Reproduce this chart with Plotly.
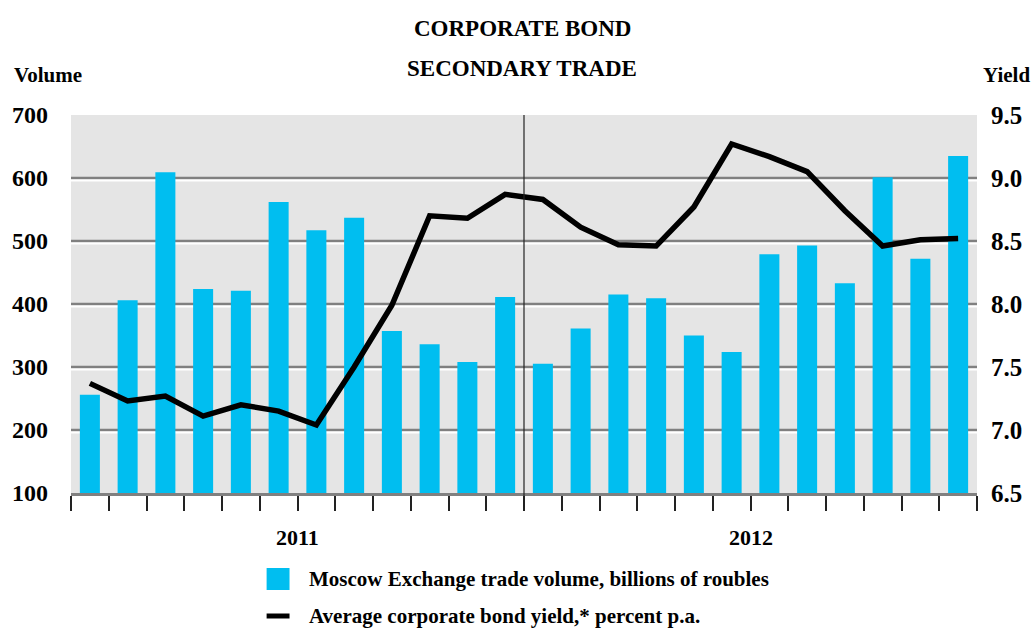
import plotly.graph_objects as go

# Monthly observations, January 2011 - December 2012
MONTHS = [f"{m} {y}" for y in (2011, 2012) for m in
          ["Jan", "Feb", "Mar", "Apr", "May", "Jun",
           "Jul", "Aug", "Sep", "Oct", "Nov", "Dec"]]
YEARS = ["2011", "2012"]

# Moscow Exchange trade volume, billions of roubles
VOLUME = [256, 406, 609, 424, 421, 562, 517, 537, 357, 336, 308, 411,
          305, 361, 415, 409, 350, 324, 479, 493, 433, 601, 472, 635]

# Average corporate bond yield, percent p.a.
YIELD = [7.37, 7.23, 7.27, 7.11, 7.20, 7.15, 7.04, 7.50, 7.99, 8.70, 8.68, 8.87,
         8.83, 8.61, 8.47, 8.46, 8.77, 9.27, 9.17, 9.05, 8.74, 8.46, 8.51, 8.52]

LEFT_TICKS = [100, 200, 300, 400, 500, 600, 700]
RIGHT_TICKS = [6.5, 7.0, 7.5, 8.0, 8.5, 9.0, 9.5]
RIGHT_TICK_TEXT = ["6.5", "7.0", "7.5", "8.0", "8.5", "9.0", "9.5"]

FONT = "'Liberation Serif', 'Times New Roman', 'DejaVu Serif', serif"
CYAN = "#00BEF0"

x = list(range(len(MONTHS)))

fig = go.Figure()
fig.add_trace(go.Bar(x=x, y=VOLUME, marker=dict(color=CYAN, line=dict(width=0)),
                     name="Moscow Exchange trade volume, billions of roubles",
                     hovertext=MONTHS, yaxis="y"))
fig.add_trace(go.Scatter(x=x, y=YIELD, mode="lines",
                         line=dict(color="black", width=5.5),
                         name="Average corporate bond yield,* percent p.a.",
                         hovertext=MONTHS, yaxis="y2"))

shapes = []
# grey gridlines with a white rule just beneath each
for v in LEFT_TICKS[1:-1]:
    shapes.append(dict(type="line", xref="paper", yref="y", x0=0, x1=1, y0=v, y1=v,
                       line=dict(color="#808080", width=2.5), layer="between"))
    shapes.append(dict(type="line", xref="paper", yref="y", ysizemode="pixel",
                       yanchor=v, x0=0, x1=1, y0=-2.5, y1=-2.5,
                       line=dict(color="white", width=2), layer="between"))
# year divider
n_first = MONTHS.index("Jan 2012")
shapes.append(dict(type="line", xref="x", yref="paper", x0=n_first - 0.5, x1=n_first - 0.5,
                   y0=-0.04, y1=1, line=dict(color="#222222", width=1.2), layer="above"))

# legend keys
shapes.append(dict(type="rect", xref="paper", yref="paper",
                   x0=0.2159, x1=0.2412, y0=-0.2566, y1=-0.1984,
                   fillcolor=CYAN, line=dict(width=0)))
shapes.append(dict(type="line", xref="paper", yref="paper",
                   x0=0.2159, x1=0.2412, y0=-0.3254, y1=-0.3254,
                   line=dict(color="black", width=5)))

bold = dict(family=FONT, color="black", weight="bold")
annotations = [
    dict(text="CORPORATE BOND", x=0.4978, y=1.230, xref="paper", yref="paper",
         showarrow=False, xanchor="center", yanchor="middle", font=dict(size=23, **bold)),
    dict(text="SECONDARY TRADE", x=0.4978, y=1.124, xref="paper", yref="paper",
         showarrow=False, xanchor="center", yanchor="middle", font=dict(size=23, **bold)),
    dict(text="Volume", x=-0.065, y=1.106, xref="paper", yref="paper",
         showarrow=False, xanchor="left", yanchor="middle", font=dict(size=21, **bold)),
    dict(text="Yield", x=1.0606, y=1.106, xref="paper", yref="paper",
         showarrow=False, xanchor="right", yanchor="middle", font=dict(size=21, **bold)),
    dict(text="Moscow Exchange trade volume, billions of roubles", x=0.26, y=-0.2275,
         xref="paper", yref="paper", showarrow=False, xanchor="left", yanchor="middle",
         font=dict(size=21, **bold)),
    dict(text="Average corporate bond yield,* percent p.a.", x=0.26, y=-0.3254,
         xref="paper", yref="paper", showarrow=False, xanchor="left", yanchor="middle",
         font=dict(size=21, **bold)),
]
# year labels centred under each year's months
for k, yr in enumerate(YEARS):
    idx = [i for i, m in enumerate(MONTHS) if m.endswith(yr)]
    annotations.append(dict(text=yr, x=sum(idx) / len(idx), y=-0.119, xref="x", yref="paper",
                            showarrow=False, xanchor="center", yanchor="middle",
                            font=dict(size=22, **bold)))

fig.update_layout(
    width=1034, height=635,
    margin=dict(l=69, r=57, t=115, b=142),
    paper_bgcolor="white", plot_bgcolor="#E5E5E5",
    font=dict(family=FONT),
    bargap=0.47, showlegend=False,
    shapes=shapes, annotations=annotations,
    xaxis=dict(range=[-0.5, len(MONTHS) - 0.5], tickmode="array",
               tickvals=[i - 0.5 for i in range(len(MONTHS) + 1)], ticktext=[""] * (len(MONTHS) + 1),
               ticks="outside", ticklen=15, tickwidth=1.5, tickcolor="#222222",
               showgrid=False, zeroline=False, showline=True, linecolor="#808080", linewidth=3),
    yaxis=dict(range=[LEFT_TICKS[0], LEFT_TICKS[-1]], tickmode="array", tickvals=LEFT_TICKS,
               showgrid=False, zeroline=False, showline=False, ticks="",
               ticklabelstandoff=22, tickfont=dict(size=24, **bold)),
    yaxis2=dict(range=[RIGHT_TICKS[0], RIGHT_TICKS[-1]], tickmode="array", tickvals=RIGHT_TICKS,
                ticktext=RIGHT_TICK_TEXT, overlaying="y", side="right",
                showgrid=False, zeroline=False, showline=False, ticks="",
                ticklabelstandoff=13, tickfont=dict(size=25, **bold)),
)

fig.write_html("out.html")
